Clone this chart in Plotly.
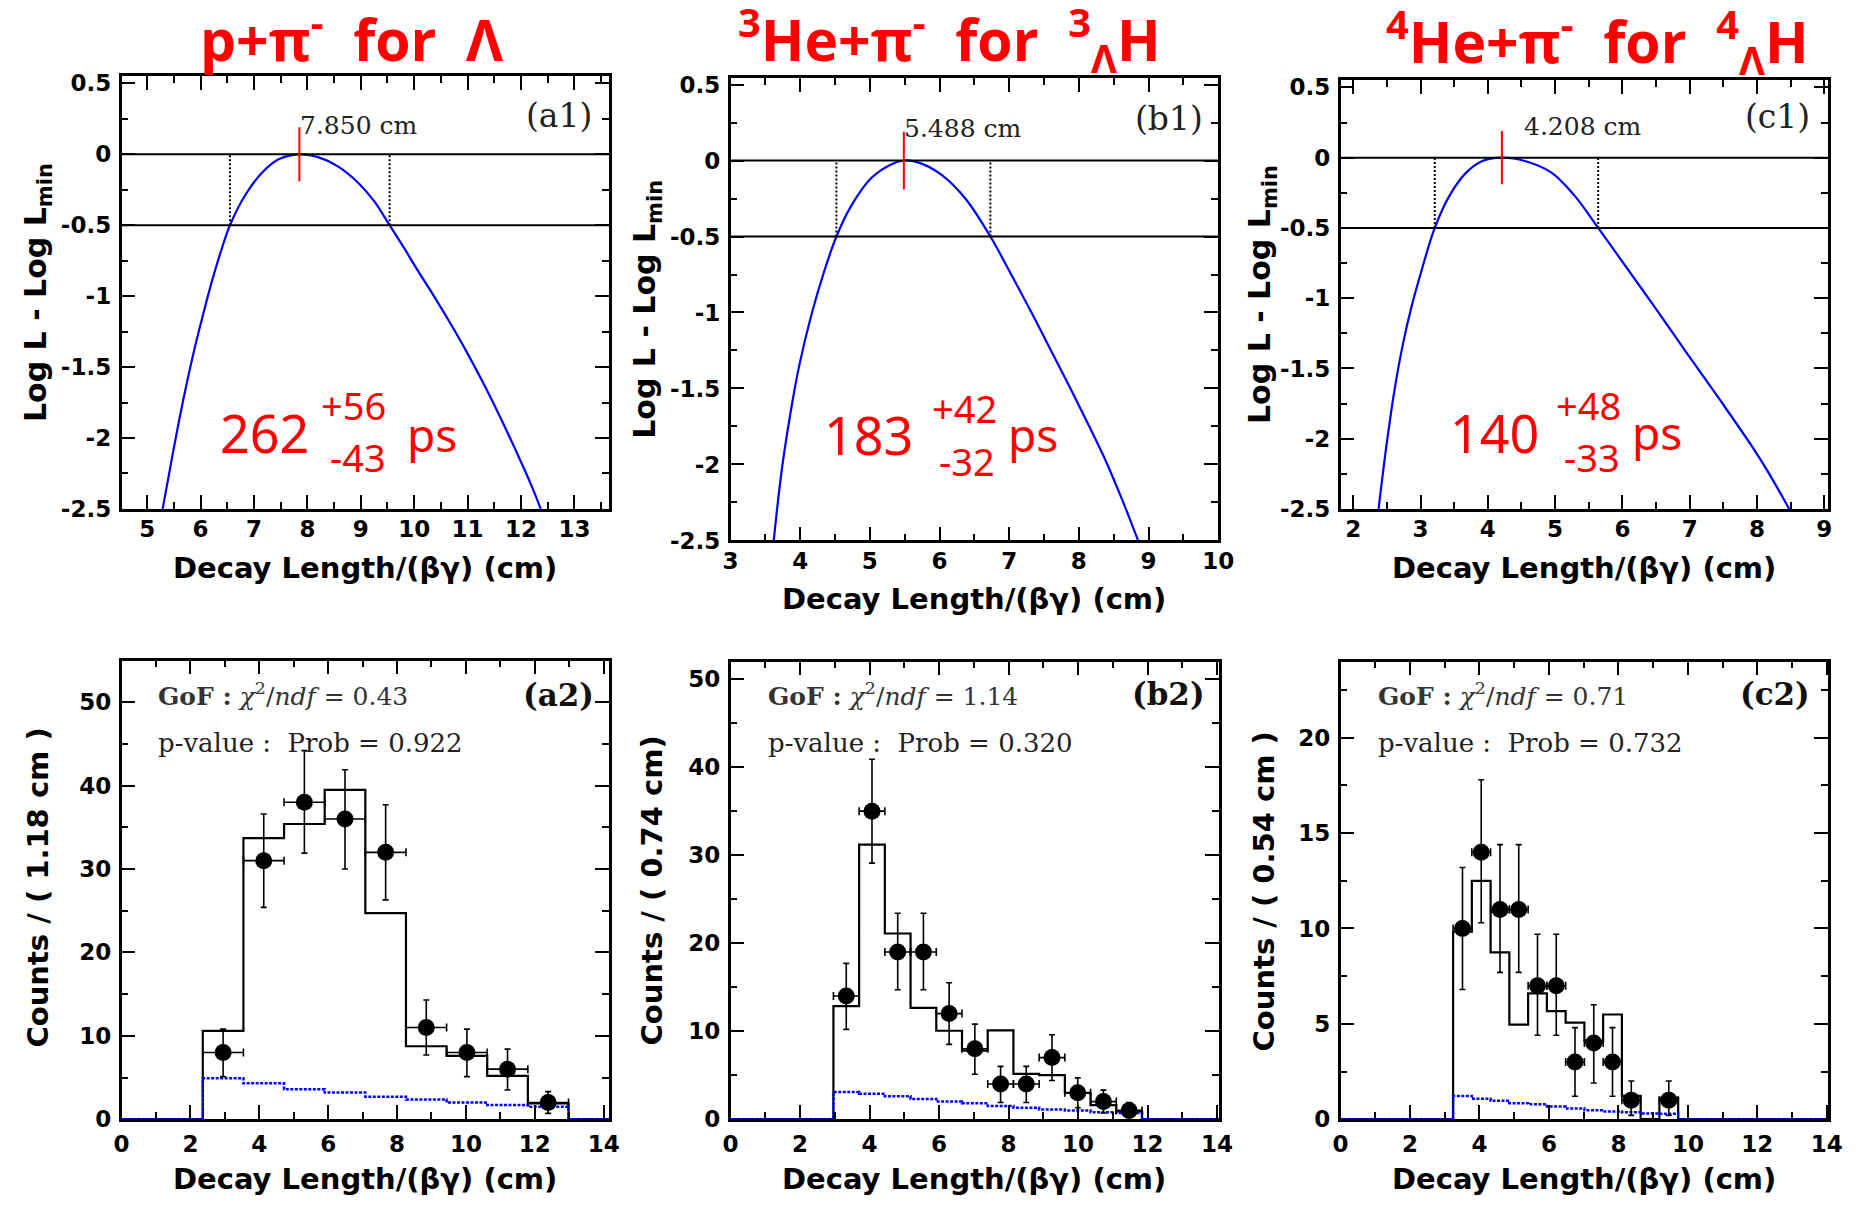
import numpy as np
import plotly.graph_objects as go

W, H = 1859, 1207

# ---------------- data: log-likelihood scans (top row) ----------------
a1_x = [5.29, 5.48, 5.66, 5.85, 6.04, 6.22, 6.41, 6.55, 6.84, 7.15, 7.46, 7.85, 8.2, 8.57, 8.95, 9.25, 9.54,
        9.81, 10.06, 10.37, 10.69, 11.0, 11.31, 11.62, 11.93, 12.19, 12.37]
a1_y = [-2.5, -2.11, -1.76, -1.43, -1.14, -0.885, -0.65, -0.5, -0.285, -0.13, -0.035, 0.0, -0.02, -0.085, -0.2,
        -0.33, -0.5, -0.66, -0.815, -1.0, -1.2, -1.405, -1.625, -1.86, -2.11, -2.33, -2.5]
a1_peak = 7.850
a1_cross = [6.55, 9.54]

b1_x = [3.62, 3.74, 3.91, 4.0, 4.17, 4.34, 4.52, 4.73, 5.01, 5.29, 5.488, 5.75, 6.03, 6.37, 6.73, 7.04, 7.32,
        7.6, 7.89, 8.15, 8.39, 8.62, 8.85]
b1_y = [-2.5, -2.02, -1.53, -1.32, -1.0, -0.735, -0.5, -0.3, -0.12, -0.03, 0.0, -0.022, -0.095, -0.25, -0.5, -0.76,
        -1.0, -1.25, -1.51, -1.75, -1.98, -2.23, -2.5]
b1_peak = 5.488
b1_cross = [4.52, 6.73]

c1_x = [2.375, 2.5, 2.62, 2.74, 2.865, 3.01, 3.21, 3.43, 3.67, 3.91, 4.208, 4.55, 4.94, 5.28, 5.64, 5.97, 6.46,
        6.95, 7.43, 7.92, 8.17, 8.48]
c1_y = [-2.5, -2.02, -1.63, -1.32, -1.06, -0.81, -0.5, -0.27, -0.11, -0.025, 0.0, -0.024, -0.105, -0.265, -0.5,
        -0.72, -1.05, -1.385, -1.71, -2.05, -2.24, -2.5]
c1_peak = 4.208
c1_cross = [3.21, 5.64]

top_yticks = [0.5, 0, -0.5, -1, -1.5, -2, -2.5]
top_ytext = ["0.5", "0", "-0.5", "-1", "-1.5", "-2", "-2.5"]
a1_xticks = [5, 6, 7, 8, 9, 10, 11, 12, 13]
b1_xticks = [3, 4, 5, 6, 7, 8, 9, 10]
c1_xticks = [2, 3, 4, 5, 6, 7, 8, 9]

# ---------------- data: decay-length histograms (bottom row) ----------------
a2_binw = 1.18
a2_model = [0, 0, 10.6, 33.7, 35.4, 39.5, 24.7, 8.75, 7.6, 5.2, 1.9, 0]
a2_bkg = [0, 0, 4.9, 4.3, 3.6, 3.2, 2.7, 2.35, 2.0, 1.7, 1.5, 0]
a2_bins = [2, 3, 4, 5, 6, 7, 8, 9, 10]
a2_counts = [8, 31, 38, 36, 32, 11, 8, 6, 2]
a2_hi = [10.8, 36.6, 44.2, 41.9, 37.7, 14.3, 10.8, 8.4, 3.3]
a2_lo = [5.1, 25.4, 31.9, 30.0, 26.3, 7.7, 5.1, 3.5, 0.7]

b2_binw = 0.74
b2_model = [0, 0, 0, 0, 12.85, 31.2, 21.1, 12.65, 10.05, 7.8, 10.1, 5.15, 5.0, 3.0, 1.6, 0.9, 0, 0, 0]
b2_bkg = [0, 0, 0, 0, 3.1, 2.9, 2.6, 2.3, 2.0, 1.8, 1.5, 1.3, 1.1, 1.0, 0.8, 0.7, 0, 0, 0]
b2_bins = [4, 5, 6, 7, 8, 9, 10, 11, 12, 13, 14, 15]
b2_counts = [14, 35, 19, 19, 12, 8, 4, 4, 7, 3, 2, 1]
b2_hi = [17.7, 40.9, 23.4, 23.4, 15.5, 10.8, 6.0, 6.0, 9.6, 4.7, 3.3, 1.9]
b2_lo = [10.2, 29.1, 14.7, 14.7, 8.5, 5.1, 1.9, 1.9, 4.4, 1.3, 0.7, 0.2]

c2_binw = 0.54
c2_model = [0, 0, 0, 0, 0, 0, 9.83, 12.5, 8.75, 4.96, 6.6, 5.67, 5.06, 4.12, 5.49, 1.22, 0, 1.12,
            0, 0, 0, 0, 0, 0, 0, 0]
c2_bkg = [0, 0, 0, 0, 0, 0, 1.22, 1.07, 0.97, 0.84, 0.78, 0.66, 0.56, 0.47, 0.41, 0.36, 0.3, 0.28,
          0, 0, 0, 0, 0, 0, 0, 0]
c2_bins = [6, 7, 8, 9, 10, 11, 12, 13, 14, 15, 17]
c2_counts = [10, 14, 11, 11, 7, 7, 3, 4, 3, 1, 1]
c2_hi = [13.2, 17.8, 14.4, 14.4, 9.7, 9.7, 4.8, 6.0, 4.8, 2.0, 2.0]
c2_lo = [6.8, 10.3, 7.7, 7.7, 4.4, 4.4, 1.2, 1.9, 1.2, 0.2, 0.2]

bot_xticks = [0, 2, 4, 6, 8, 10, 12, 14]
ab_yticks = [0, 10, 20, 30, 40, 50]
c_yticks = [0, 5, 10, 15, 20]

# ---------------- layout helpers ----------------
def fx(p):
    return p / W

def fy(p):
    return 1 - p / H

panels = [
    ("1", (115, 609), (71, 511)),
    ("2", (732, 1226), (73, 543)),
    ("3", (1350, 1844), (75, 511)),
    ("4", (115, 609), (665, 1131)),
    ("5", (732, 1227), (666, 1131)),
    ("6", (1350, 1844), (666, 1131)),
]

TICKFONT = dict(family="DejaVu Sans", size=23, color="black", weight="bold")

def axis(dom, rng, tickvals, ticktext, minor_dtick, anchor, standoff):
    return dict(domain=dom, range=rng, anchor=anchor, showline=True, linecolor="black",
                linewidth=2.5, mirror="allticks", ticks="inside", ticklen=14, tickwidth=2,
                tickcolor="black", tickmode="array", tickvals=tickvals, ticktext=ticktext,
                tickfont=TICKFONT, showgrid=False, zeroline=False, ticklabelstandoff=standoff,
                minor=dict(ticks="inside", ticklen=7, tickwidth=2, tickcolor="black",
                           tick0=0, dtick=minor_dtick))

fig = go.Figure()
shapes = []
annotations = []

def ann(text, x, y, size, color="black", family="DejaVu Sans", xanchor="center",
        yanchor="middle", angle=0, weight="normal"):
    annotations.append(dict(text=text, x=fx(x), y=fy(y), xref="paper", yref="paper",
                            showarrow=False, xanchor=xanchor, yanchor=yanchor, textangle=angle,
                            font=dict(size=size, color=color, family=family, weight=weight)))

# ---------------- top row ----------------
top = [
    ("1", a1_x, a1_y, a1_peak, a1_cross),
    ("2", b1_x, b1_y, b1_peak, b1_cross),
    ("3", c1_x, c1_y, c1_peak, c1_cross),
]
for (k, xs, ys, peak, cross) in top:
    xa = "x" if k == "1" else "x" + k
    ya = "y" if k == "1" else "y" + k
    fig.add_trace(go.Scatter(x=xs, y=ys, mode="lines", xaxis=xa, yaxis=ya,
                             line=dict(color="#0000ff", width=2.2, shape="spline", smoothing=1.0),
                             hoverinfo="skip"))
    for yv in (0, -0.5):
        shapes.append(dict(type="line", xref=xa + " domain", yref=ya, x0=0, x1=1, y0=yv, y1=yv,
                           line=dict(color="black", width=2)))
    for c in cross:
        shapes.append(dict(type="line", xref=xa, yref=ya, x0=c, x1=c, y0=-0.5, y1=0,
                           line=dict(color="black", width=2, dash="2px,2px")))
    shapes.append(dict(type="line", xref=xa, yref=ya, x0=peak, x1=peak, y0=-0.19, y1=0.19,
                       line=dict(color="#ff0000", width=2)))

# ---------------- bottom row ----------------
bottom = [
    ("4", a2_binw, a2_model, a2_bkg, a2_bins, a2_counts, a2_hi, a2_lo),
    ("5", b2_binw, b2_model, b2_bkg, b2_bins, b2_counts, b2_hi, b2_lo),
    ("6", c2_binw, c2_model, c2_bkg, c2_bins, c2_counts, c2_hi, c2_lo),
]
for (k, w, model, bkg, bins, counts, hi, lo) in bottom:
    xa, ya = "x" + k, "y" + k
    edges = np.arange(len(model) + 1) * w
    fig.add_trace(go.Scatter(x=edges, y=list(model) + [model[-1]], mode="lines", xaxis=xa, yaxis=ya,
                             line=dict(color="black", width=2.2, shape="hv"), hoverinfo="skip"))
    fig.add_trace(go.Scatter(x=edges, y=list(bkg) + [bkg[-1]], mode="lines", xaxis=xa, yaxis=ya,
                             line=dict(color="#0000ff", width=2.5, shape="hv", dash="3px,1.5px"),
                             hoverinfo="skip"))
    centers = (np.array(bins) + 0.5) * w
    cnt = np.array(counts, dtype=float)
    fig.add_trace(go.Scatter(
        x=centers, y=cnt, mode="markers", xaxis=xa, yaxis=ya,
        marker=dict(color="black", size=17),
        error_y=dict(type="data", symmetric=False, array=np.array(hi) - cnt,
                     arrayminus=cnt - np.array(lo), color="black", thickness=1.6, width=3),
        error_x=dict(type="data", array=[w / 2] * len(bins), color="black", thickness=1.6, width=4),
        hoverinfo="skip"))

# ---------------- axes ----------------
lay = {}
ranges = {
    "1": ([4.52, 13.65], [-2.5, 0.553], a1_xticks, 0.5, top_yticks, top_ytext, 0.25),
    "2": ([3.0, 10.0], [-2.5, 0.544], b1_xticks, 0.5, top_yticks, top_ytext, 0.25),
    "3": ([1.81, 9.06], [-2.5, 0.554], c1_xticks, 0.5, top_yticks, top_ytext, 0.25),
    "4": ([0, 14.16], [0, 55], bot_xticks, 1, ab_yticks, [str(v) for v in ab_yticks], 5),
    "5": ([0, 14.06], [0, 52], bot_xticks, 1, ab_yticks, [str(v) for v in ab_yticks], 5),
    "6": ([0, 14.04], [0, 24], bot_xticks, 1, c_yticks, [str(v) for v in c_yticks], 2.5),
}
for (k, (l, r), (t, b)) in panels:
    xr, yr, xt, xm, yt, ytt, ym = ranges[k]
    xname = "xaxis" if k == "1" else "xaxis" + k
    yname = "yaxis" if k == "1" else "yaxis" + k
    xa = "x" if k == "1" else "x" + k
    ya = "y" if k == "1" else "y" + k
    xs = -2 if k in ("1", "2", "3") else 2
    lay[xname] = axis([fx(l), fx(r)], xr, xt, [str(v) for v in xt], xm, ya, standoff=xs)
    lay[yname] = axis([fy(b), fy(t)], yr, yt, ytt, ym, xa, standoff=3)

# ---------------- texts ----------------
RED = "#ff0000"
TF = "Open Sans"
ann("p+π<sup>-</sup>\u00a0\u00a0for\u00a0\u00a0Λ", 348, 30, 57, RED, TF, weight="bold")
ann("<sup>3</sup>He+π<sup>-</sup>\u00a0\u00a0for\u00a0\u00a0<sup>3</sup><sub>Λ</sub>H", 954, 34, 57, RED, TF, weight="bold")
ann("<sup>4</sup>He+π<sup>-</sup>\u00a0\u00a0for\u00a0\u00a0<sup>4</sup><sub>Λ</sub>H", 1610, 36, 57, RED, TF, weight="bold")

NF = "Noto Sans"
for (main, up, dn, cx, ux, dx, psx, mb, ub, db, pb) in [
        ("262", "+56", "-43", 260, 350, 355, 430, 453, 420, 473, 453),
        ("183", "+42", "-32", 872, 969, 972, 1038, 455, 423, 477, 453),
        ("140", "+48", "-33", 1506, 1601, 1605, 1671, 453, 420, 473, 451)]:
    ann(main, cx, mb - 20, 52, RED, NF)
    ann(up, ux, ub - 15, 38, RED, NF)
    ann(dn, dx, db - 15, 38, RED, NF)
    ann("ps", psx, pb - 18, 46, RED, NF)

SF = "DejaVu Serif"
ann("7.850 cm", 294, 121, 25, "#222222", SF, xanchor="left")
ann("5.488 cm", 906, 124, 25, "#222222", SF, xanchor="left")
ann("4.208 cm", 1534, 122, 25, "#222222", SF, xanchor="left")
ann("(a1)", 558, 111, 33, "#222222", SF)
ann("(b1)", 1176, 114, 33, "#222222", SF)
ann("(c1)", 1793, 112, 33, "#222222", SF)
ann("(a2)", 558, 700, 31, "#111111", SF, weight="bold")
ann("(b2)", 1176, 699, 31, "#111111", SF, weight="bold")
ann("(c2)", 1790, 699, 31, "#111111", SF, weight="bold")

for (x0, chi, prob) in [(150, "0.43", "0.922"), (768, "1.14", "0.320"), (1386, "0.71", "0.732")]:
    ann("<b>GoF :</b> <i>χ</i><sup>2</sup>/<i>ndf</i> = " + chi, x0, 700, 25, "#333333", SF, xanchor="left")
    ann("p-value :  Prob = " + prob, x0, 749, 26, "#222222", SF, xanchor="left")

XT = "Decay Length/(βγ) (cm)"
AF = "DejaVu Sans"
ann(XT, 362, 571, 29, "black", AF, weight="bold")
ann(XT, 979, 602, 29, "black", AF, weight="bold")
ann(XT, 1597, 571, 29, "black", AF, weight="bold")
ann(XT, 362, 1192, 29, "black", AF, weight="bold")
ann(XT, 979, 1192, 29, "black", AF, weight="bold")
ann(XT, 1597, 1192, 29, "black", AF, weight="bold")

YT = "Log L - Log L<sub>min</sub>"
ann(YT, 30, 291, 30, "black", AF, angle=-90, weight="bold")
ann(YT, 647, 308, 30, "black", AF, angle=-90, weight="bold")
ann(YT, 1270, 293, 30, "black", AF, angle=-90, weight="bold")
ann("Counts / ( 1.18 cm )", 30, 896, 29, "black", AF, angle=-90, weight="bold")
ann("Counts / ( 0.74 cm)", 652, 899, 29, "black", AF, angle=-90, weight="bold")
ann("Counts / ( 0.54 cm )", 1272, 900, 29, "black", AF, angle=-90, weight="bold")

fig.update_layout(width=W, height=H, margin=dict(l=0, r=0, t=0, b=0), showlegend=False,
                  plot_bgcolor="white", paper_bgcolor="white", shapes=shapes,
                  annotations=annotations, **lay)

fig.write_html("out.html", config={"displayModeBar": False},
               post_script="document.body.style.margin='0px';document.body.style.overflow='hidden';")
